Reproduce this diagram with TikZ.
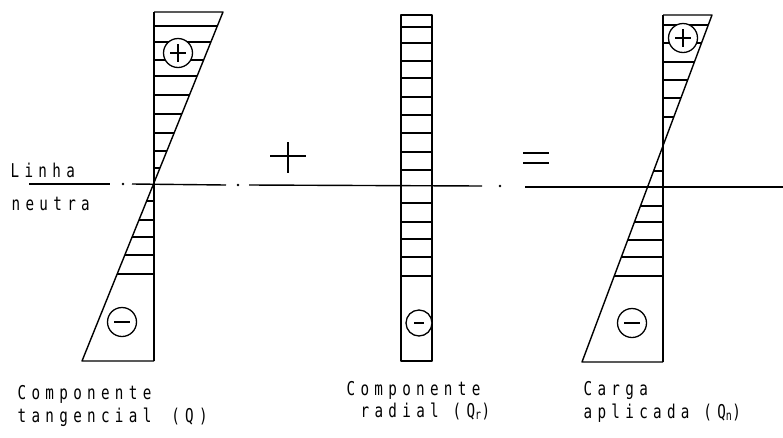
\documentclass[tikz,border=0pt]{standalone}
\usepackage{fontspec}
\setmainfont{DejaVu Sans Mono}[LetterSpace=28,FakeStretch=0.75]
\begin{document}
\begin{tikzpicture}[x=1pt,y=-1pt,line width=1.4pt,line join=round,
  lbl/.style={anchor=base west,inner sep=0pt,font=\fontsize{19}{21}\selectfont},
  sign/.style={circle,draw,fill=white,minimum size=29pt,inner sep=0pt,line width=1.3pt},
  hatch/.style={line width=1.1pt},
  dotmark/.style={circle,fill,inner sep=0pt,minimum size=2.8pt}]
\useasboundingbox (0,0) rectangle (783,437);

% neutral line (dash-dot)
\coordinate (n1a) at (29,184); \coordinate (n1b) at (110,184);
\coordinate (n2a) at (132,184); \coordinate (n2b) at (226,185);
\coordinate (n3a) at (249,185); \coordinate (n3b) at (482,186);
\coordinate (n4a) at (525,187); \coordinate (n4b) at (783,187);
\draw (n1a) -- (n1b);
\draw (n2a) -- (n2b);
\draw (n3a) -- (n3b);
\draw (n4a) -- (n4b);
\node[dotmark] (d1) at (123,184) {};
\node[dotmark] (d2) at (238,185) {};
\node[dotmark] (d3) at (500,186) {};

% ---------- Diagram 1: tangential component ----------
\coordinate (A1) at (154,12);
\coordinate (B1) at (223,12);
\coordinate (C1) at (82,361);
\coordinate (D1) at (154,361);
\foreach \y in {26,42,60,76,95,114,133,151,168,201,220,237,255,274}
  \draw[hatch] (154,\y) -- ({223-0.404*(\y-12)},\y);
\draw (A1) -- (D1);
\draw (A1) -- (B1) -- (C1) -- (D1);
\node[sign] (p1) at (178,53) {};
\draw (p1.center) ++(-8,0) -- ++(16,0);
\draw (p1.center) ++(0,-9) -- ++(0,18);
\node[sign] (m1) at (122,322) {};
\draw (m1.center) ++(-8,0) -- ++(16,0);

% ---------- plus sign ----------
\coordinate (ph1) at (270,156); \coordinate (ph2) at (306,156);
\coordinate (pv1) at (288,142); \coordinate (pv2) at (288,173);
\draw (ph1) -- (ph2);
\draw (pv1) -- (pv2);

% ---------- Diagram 2: radial component ----------
\coordinate (A2) at (401,15);
\coordinate (D2) at (432,361);
\foreach \y in {27,43,61,78,97,115,133,152,170,203,222,239,257,276}
  \draw[hatch] (401,\y) -- (432,\y);
\draw (A2) rectangle (D2);
\node[sign,minimum size=26pt] (m2) at (419,323) {};
\draw (m2.center) ++(-5,0) -- ++(10,0);

% ---------- equals sign ----------
\coordinate (e1) at (523,153); \coordinate (e2) at (549,153);
\coordinate (e3) at (523,163); \coordinate (e4) at (549,163);
\draw (e1) -- (e2);
\draw (e3) -- (e4);

% ---------- Diagram 3: applied load ----------
\coordinate (A3) at (663,15);
\coordinate (B3) at (712,15);
\coordinate (C3) at (582,362);
\coordinate (D3) at (663,362);
\foreach \y in {25,43,62,80,98,117,171,206,222,240,257,276}
  \draw[hatch] (663,\y) -- ({712-0.3746*(\y-15)},\y);
\draw (A3) -- (D3);
\draw (A3) -- (B3) -- (C3) -- (D3);
\node[sign] (p3) at (683,38) {};
\draw (p3.center) ++(-8,0) -- ++(16,0);
\draw (p3.center) ++(0,-9) -- ++(0,18);
\node[sign] (m3) at (632,323) {};
\draw (m3.center) ++(-8,0) -- ++(16,0);

% ---------- labels ----------
\node[lbl] (linha) at (10,177) {Linha};
\node[lbl] (neutra) at (11,210) {neutra};
\node[lbl] (c1a) at (17,399) {Componente};
\node[lbl] (c1b) at (17,422) {tangencial\hspace{6pt} (Q)};
\node[lbl] (c2a) at (346,395) {Componente};
\node[lbl] (c2b) at (360,417) {radial (Q\textsubscript{r})};
\node[lbl] (c3a) at (583,395) {Carga};
\node[lbl] (c3b) at (583,418) {aplicada (Q\textsubscript{n})};
\end{tikzpicture}
\end{document}
